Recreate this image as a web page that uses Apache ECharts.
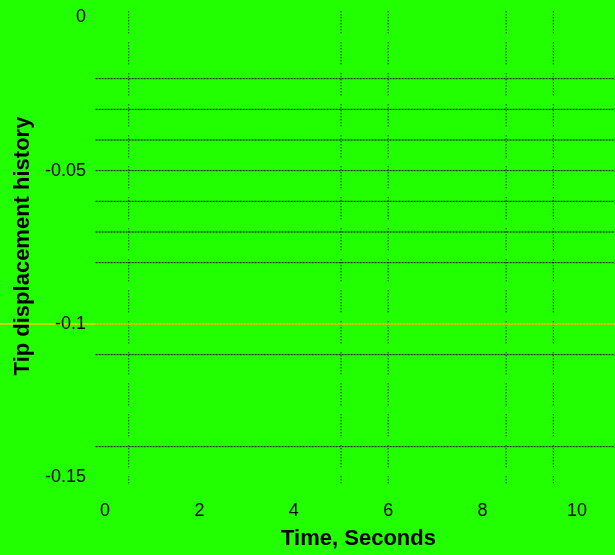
<!DOCTYPE html>
<html>
<head>
<meta charset="utf-8">
<title>Tip displacement history</title>
<script src="https://cdn.jsdelivr.net/npm/echarts@6/dist/echarts.min.js"></script>
<style>
html, body {
    margin: 0;
    padding: 0;
    background-color: #22ff00;
}
#chart {
    width: 615px;
    height: 555px;
}
</style>
</head>
<body>
<div id="chart"></div>
<script>
// values
const xTicks = [0, 2, 4, 6, 8, 10]
const yTicks = [0, -0.05, -0.1, -0.15]
const xRange = [-2.225, 10.805]
const yRange = [-0.16, 0.005]

// dotted horizontal lines (y) and where they start / stop in x
const hLevels = [-0.02, -0.03, -0.04, -0.05, -0.06, -0.07, -0.08, -0.1, -0.11, -0.14]
const hSpan = [-0.2, 10.805]

// dotted vertical lines (x) and their y extent
const vTimes = [0.5, 5, 6, 8.5, 9.5]
const vSpan = [0.002, -0.152]

// the yellow reference line
const refLevel = -0.1

const chart = echarts.init(document.getElementById('chart'))

const series = []
hLevels.forEach(function (y) {
  series.push({
    type: 'line',
    data: [[hSpan[0], y], [hSpan[1], y]],
    symbol: 'none',
    silent: true,
    lineStyle: { color: '#000000', width: 1, type: [2, 1] }
  })
})
vTimes.forEach(function (x) {
  series.push({
    type: 'line',
    data: [[x, vSpan[0]], [x, vSpan[1]]],
    symbol: 'none',
    silent: true,
    // stippled: runs of dots broken by short gaps
    lineStyle: { color: '#000000', width: 1.2, type: [1, 2, 1, 2, 1, 2, 1, 2, 1, 2, 1, 2, 1, 2, 1, 9] }
  })
})
series.push({
  type: 'line',
  data: [[xRange[0], refLevel], [xRange[1], refLevel]],
  symbol: 'none',
  silent: true,
  z: 4,
  lineStyle: { color: '#ffcc00', width: 1.5 }
})

const option = {
  backgroundColor: '#22ff00',
  animation: false,
  grid: {
    left: 0,
    right: 0,
    top: 2,
    bottom: 47
  },
  xAxis: {
    type: 'value',
    min: xRange[0],
    max: xRange[1],
    offset: -10,
    z: 10,
    name: 'Time, Seconds',
    nameLocation: 'middle',
    nameGap: 30,
    nameTextStyle: {
      color: '#000000',
      fontSize: 22,
      fontWeight: 'bold',
      fontFamily: 'Liberation Sans',
      padding: [0, 0, 0, 102]
    },
    axisLine: { show: false },
    axisTick: { show: false },
    splitLine: { show: false },
    axisLabel: {
      customValues: xTicks,
      margin: 4,
      color: '#000000',
      fontSize: 18,
      fontFamily: 'Liberation Sans'
    }
  },
  yAxis: {
    type: 'value',
    min: yRange[0],
    max: yRange[1],
    offset: -95,
    z: 10,
    name: 'Tip displacement history',
    nameLocation: 'middle',
    nameGap: 52,
    nameRotate: 90,
    nameTextStyle: {
      color: '#000000',
      fontSize: 22,
      fontWeight: 'bold',
      fontFamily: 'Liberation Sans',
      padding: [0, 0, 0, 18]
    },
    axisLine: { show: false },
    axisTick: { show: false },
    splitLine: { show: false },
    axisLabel: {
      customValues: yTicks,
      margin: 9,
      color: '#000000',
      fontSize: 18,
      fontFamily: 'Liberation Sans'
    }
  },
  series: series
}
chart.setOption(option)
</script>
</body>
</html>
